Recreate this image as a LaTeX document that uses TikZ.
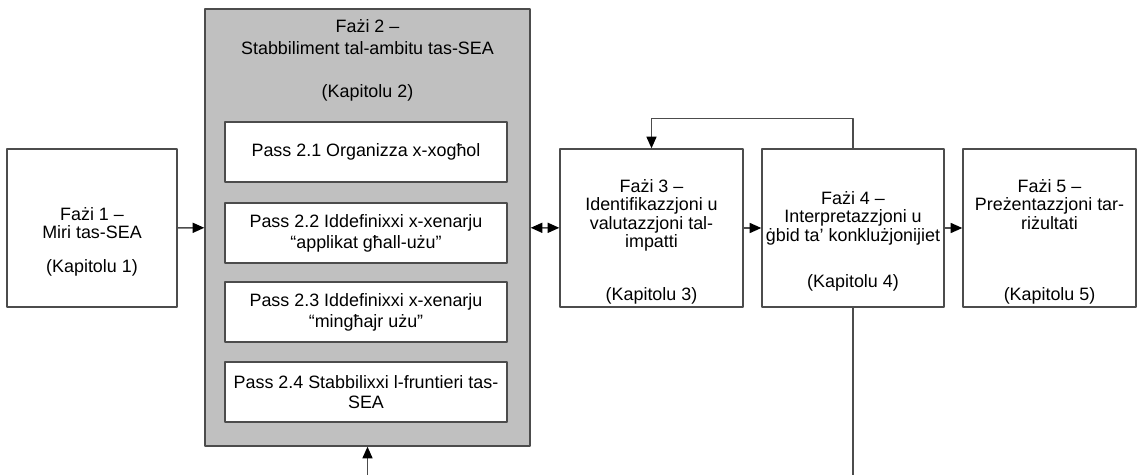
\documentclass[tikz,border=0pt]{standalone}
\usepackage{fontspec}
\setmainfont{Liberation Sans}
\usetikzlibrary{arrows.meta}
\definecolor{fazgray}{HTML}{C0C0C0}
\begin{document}
\begin{tikzpicture}[line cap=round, line join=round, font=\fontsize{8.95}{9.2}\selectfont, >={Triangle[length=5.8pt,width=5pt,color=black]}, x=0.5pt, y=-0.5pt]
	\tikzset{phase/.style={draw=black!70, line width=0.7pt, fill=white, inner sep=0pt, minimum height=79pt},
		pass/.style={phase, minimum width=141pt, minimum height=30pt, align=center, font=\fontsize{8.95}{10.4}\selectfont},
		txt/.style={anchor=north, inner sep=0pt, align=center},
		link/.style={draw=black!70, line width=0.7pt}}
	\useasboundingbox (0,0) rectangle (1138,475);
	% the phases
	\node[phase, minimum width=85pt] (f1) at (92,228) {};
	\node[phase, fill=fazgray, minimum width=162.5pt, minimum height=218.5pt] (f2) at (367.5,227.5) {};
	\node[phase, minimum width=91.5pt] (f3) at (651.5,228) {};
	\node[phase, minimum width=91pt] (f4) at (853,228) {};
	\node[phase, minimum width=86.5pt] (f5) at (1049.5,228) {};
	\node[txt] (t1) at (92,207) {Fażi 1 –\\Miri tas-SEA\\[7.5pt](Kapitolu 1)};
	\node[txt, font=\fontsize{8.95}{11}\selectfont] (t2) at (367.5,19) {Fażi 2 –\\Stabbiliment tal-ambitu tas-SEA\\[10.5pt](Kapitolu 2)};
	\node[txt] (t3) at (651.5,179) {Fażi 3 –\\Identifikazzjoni u\\valutazzjoni tal-\\impatti\\[17.3pt](Kapitolu 3)};
	\node[txt] (t4) at (853,191) {Fażi 4 –\\Interpretazzjoni u\\ġbid ta’ konklużjonijiet\\[13.8pt](Kapitolu 4)};
	\node[txt] (t5) at (1049.5,179) {Fażi 5 –\\Preżentazzjoni tar-\\riżultati\\[26.3pt](Kapitolu 5)};
	% steps of phase 2
	\node[pass] (p1) at (366,152) {Pass 2.1 Organizza x-xogħol};
	\node[pass] (p2) at (366,233) {Pass 2.2 Iddefinixxi x-xenarju\\“applikat għall-użu”};
	\node[pass] (p3) at (366,312) {Pass 2.3 Iddefinixxi x-xenarju\\“mingħajr użu”};
	\node[pass] (p4) at (366,392) {Pass 2.4 Stabbilixxi l-fruntieri tas-\\SEA};
	% links
	\draw[link, ->] (f1) -- (f2);
	\draw[link, <->] (f2) -- (f3);
	\draw[link, ->] (f3) -- (f4);
	\draw[link, ->] (f4) -- (f5);
	\draw[link, ->] (f4.north) -- ++(0,-30) -| (f3.north);
	\coordinate (src) at (367.5,475);
	\coordinate (sink) at (853,475);
	\draw[link, ->] (src) -- (f2.south);
	\draw[link] (f4.south) -- (sink);
\end{tikzpicture}
\end{document}
